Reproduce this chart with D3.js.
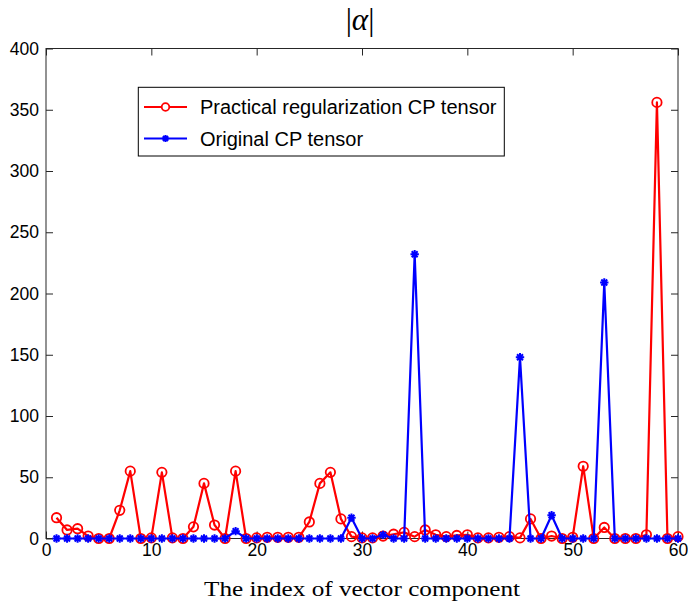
<!DOCTYPE html>
<html>
<head>
<meta charset="utf-8">
<script src="https://cdn.jsdelivr.net/npm/d3@7"></script>
<style>
  body { margin: 0; background: #fff; }
  svg { display: block; }
</style>
</head>
<body>
<svg id="chart"></svg>
<script>
// values, index 1..60
var indices = d3.range(1, 61);
var practical = [17, 7, 8, 2, 0, 0, 23, 55, 0, 0.5,
                 54, 0.5, 0, 9.5, 45, 11, 0, 55, 0, 0.5,
                 1, 1, 1, 1, 13.5, 45, 54, 16, 1.5, 0.5,
                 0.5, 2, 3.5, 5, 1.5, 7, 3, 1.5, 2.5, 3,
                 0.5, 0.5, 1, 1.5, 0.5, 16, 0, 2, 0, 1,
                 59, 0, 9, 0, 0, 0, 3, 356, 0, 1.5];
var original = [0, 0, 0, 0, 0, 0, 0, 0, 0, 0,
                0, 0, 0, 0, 0, 0, 0, 6, 0, 0,
                0, 0, 0, 0, 0, 0, 0, 0, 17, 0,
                0, 3, 0, 0, 232, 0, 0, 0, 0, 0,
                0, 0, 0, 0, 148, 0, 0, 19, 0, 0,
                0, 0, 209, 0, 0, 0, 0, 0, 0, 0];
var xTicks = [0, 10, 20, 30, 40, 50, 60];
var yTicks = [0, 50, 100, 150, 200, 250, 300, 350, 400];
var seriesNames = ["Practical regularization CP tensor", "Original CP tensor"];

var W = 688, H = 605;
var pLeft = 46, pRight = 678, pTop = 48.5, pBottom = 538.5;

var svg = d3.select("#chart").attr("width", W).attr("height", H);

var x = d3.scaleLinear().domain([0, 60]).range([pLeft, pRight]);
var y = d3.scaleLinear().domain([0, 400]).range([pBottom, pTop]);

var axisColor = "#262626";
var tickFont = "'Liberation Sans', Arial, sans-serif";

function styleAxis(g) {
  g.select(".domain").remove();
  g.selectAll("line").attr("stroke", axisColor).attr("stroke-width", 1);
  g.selectAll("text").attr("fill", "#000").style("font-family", tickFont).style("font-size", "17.5px");
}

// axes with ticks pointing inward on all four sides
svg.append("g")
  .attr("transform", `translate(0,${pBottom})`)
  .call(d3.axisBottom(x).tickValues(xTicks).tickSizeInner(-7).tickSizeOuter(0).tickPadding(5))
  .call(styleAxis);
svg.append("g")
  .attr("transform", `translate(0,${pTop})`)
  .call(d3.axisTop(x).tickValues(xTicks).tickSizeInner(-7).tickSizeOuter(0).tickFormat(""))
  .call(styleAxis);
svg.append("g")
  .attr("transform", `translate(${pLeft},0)`)
  .call(d3.axisLeft(y).tickValues(yTicks).tickSizeInner(-7).tickSizeOuter(0).tickPadding(7))
  .call(styleAxis);
svg.append("g")
  .attr("transform", `translate(${pRight},0)`)
  .call(d3.axisRight(y).tickValues(yTicks).tickSizeInner(-7).tickSizeOuter(0).tickFormat(""))
  .call(styleAxis);

// box
svg.append("rect")
  .attr("x", pLeft).attr("y", pTop)
  .attr("width", pRight - pLeft).attr("height", pBottom - pTop)
  .attr("fill", "none").attr("stroke", axisColor).attr("stroke-width", 1);

var line = d3.line().x(function (d) { return x(d[0]); }).y(function (d) { return y(d[1]); });

var redData = indices.map(function (k, i) { return [k, practical[i]]; });
var blueData = indices.map(function (k, i) { return [k, original[i]]; });

// asterisk marker like matlab '*'
function star(r) {
  var d = r * Math.SQRT1_2;
  return `M${-r},0L${r},0M0,${-r}L0,${r}M${-d},${-d}L${d},${d}M${-d},${d}L${d},${-d}`;
}

var plot = svg.append("g");

plot.append("path").datum(redData)
  .attr("d", line).attr("fill", "none").attr("stroke", "#ff0000").attr("stroke-width", 2.2)
  .attr("stroke-linejoin", "round");
plot.selectAll(".red_mk").data(redData).join("circle")
  .attr("class", "red_mk")
  .attr("cx", function (d) { return x(d[0]); })
  .attr("cy", function (d) { return y(d[1]); })
  .attr("r", 4.7)
  .attr("fill", "none").attr("stroke", "#ff0000").attr("stroke-width", 1.8);

plot.append("path").datum(blueData)
  .attr("d", line).attr("fill", "none").attr("stroke", "#0000ff").attr("stroke-width", 2.2)
  .attr("stroke-linejoin", "round");
plot.selectAll(".blue_mk").data(blueData).join("path")
  .attr("class", "blue_mk")
  .attr("transform", function (d) { return `translate(${x(d[0])},${y(d[1])})`; })
  .attr("d", star(4.2))
  .attr("fill", "none").attr("stroke", "#0000ff").attr("stroke-width", 2);

// legend
var lg = svg.append("g");
lg.append("rect")
  .attr("x", 138.3).attr("y", 87.3).attr("width", 366).attr("height", 68.7)
  .attr("fill", "#fff").attr("stroke", "#000").attr("stroke-width", 1);
var rows = [
  { name: seriesNames[0], color: "#ff0000", y: 107 },
  { name: seriesNames[1], color: "#0000ff", y: 138.5 }
];
rows.forEach(function (r, i) {
  lg.append("line").attr("x1", 144).attr("x2", 187).attr("y1", r.y).attr("y2", r.y)
    .attr("stroke", r.color).attr("stroke-width", 2.2);
  if (i === 0) {
    lg.append("circle").attr("cx", 165.5).attr("cy", r.y).attr("r", 3.8)
      .attr("fill", "#fff").attr("stroke", r.color).attr("stroke-width", 1.8);
  } else {
    lg.append("path").attr("transform", `translate(165.5,${r.y})`).attr("d", star(3.6))
      .attr("stroke", r.color).attr("stroke-width", 2);
  }
  lg.append("text").attr("x", 200).attr("y", r.y).attr("dy", "0.35em")
    .style("font-family", tickFont).style("font-size", "20px").text(r.name);
});

// title and x label
var title = svg.append("text")
  .attr("x", 360).attr("y", 30)
  .attr("text-anchor", "middle")
  .style("font-family", "'Liberation Serif', 'DejaVu Serif', serif")
  .style("font-size", "31px");
title.append("tspan").text("|");
title.append("tspan").style("font-style", "italic").text("α");
title.append("tspan").text("|");

svg.append("text")
  .attr("x", (pLeft + pRight) / 2).attr("y", 596)
  .attr("text-anchor", "middle")
  .attr("textLength", 316).attr("lengthAdjust", "spacingAndGlyphs")
  .style("font-family", "'Liberation Serif', 'DejaVu Serif', serif")
  .style("font-size", "21px")
  .text("The index of vector component");
</script>
</body>
</html>
